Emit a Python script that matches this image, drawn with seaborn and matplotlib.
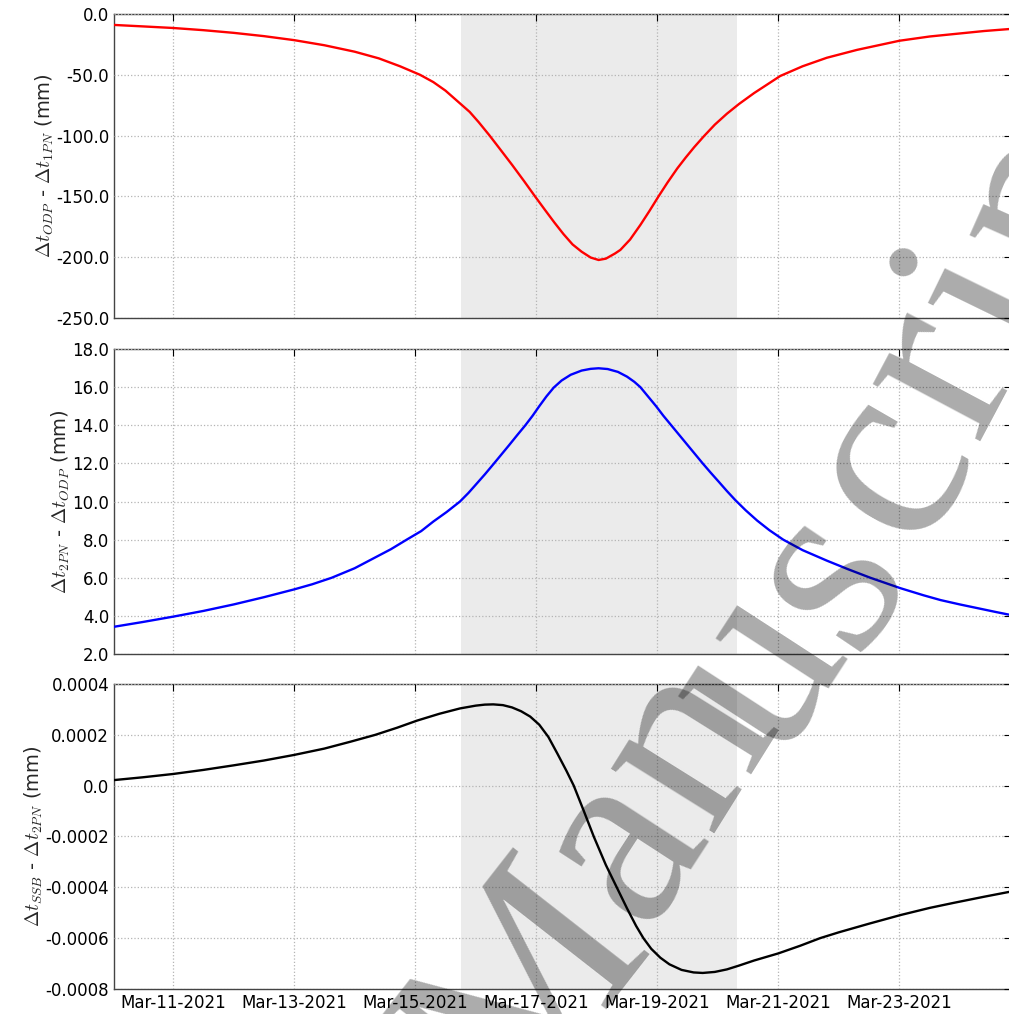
import numpy as np
import pandas as pd
import matplotlib
matplotlib.use("Agg")
import matplotlib.pyplot as plt
import matplotlib.dates as mdates
from matplotlib.ticker import MultipleLocator, FuncFormatter
import seaborn as sns

# time axis: days after Mar-11-2021 00:00
BASE = pd.Timestamp("2021-03-11")

odp_days = [-0.975, -0.5, 0, 0.5, 1, 1.5, 2, 2.5, 3, 3.4, 3.75, 4.08, 4.3, 4.5,
            4.74, 4.9, 5.05, 5.23, 5.4, 5.6, 5.8, 5.98, 6.15, 6.3, 6.45, 6.6,
            6.75, 6.9, 7.03, 7.15, 7.3, 7.39, 7.55, 7.72, 7.87, 8.02, 8.17, 8.33,
            8.47, 8.61, 8.77, 8.95, 9.15, 9.35, 9.6, 9.8, 10.03, 10.4, 10.8, 11.3,
            12, 12.5, 13, 13.4, 13.835]
odp_minus_1pn = [-9.0, -10.2, -11.5, -13.3, -15.5, -18.2, -21.5, -25.7, -31.0,
                 -36.5, -43.0, -50.0, -56.0, -63.0, -73.5, -80.5, -89.0, -100.0,
                 -111.0, -124.0, -137.5, -150.0, -161.5, -171.5, -181.0, -189.5,
                 -195.5, -200.3, -202.3, -201.2, -197.0, -194.0, -185.5, -173.5,
                 -162.0, -150.0, -138.5, -127.0, -118.0, -109.5, -100.5, -91.0,
                 -82.0, -74.0, -65.0, -58.5, -51.0, -43.0, -36.0, -29.5, -22.0,
                 -18.5, -16.0, -14.0, -12.3]

pn2_days = [-0.975, -0.5, 0, 0.5, 1, 1.5, 2, 2.3, 2.62, 3.0, 3.3, 3.6, 3.86, 4.1,
            4.3, 4.52, 4.74, 4.88, 5.0, 5.15, 5.29, 5.42, 5.55, 5.69, 5.82, 5.94,
            6.05, 6.17, 6.29, 6.42, 6.57, 6.75, 6.9, 7.03, 7.18, 7.35, 7.5, 7.62,
            7.72, 7.85, 7.98, 8.1, 8.23, 8.36, 8.49, 8.62, 8.75, 8.88, 9.02, 9.15,
            9.29, 9.46, 9.65, 9.85, 10.08, 10.4, 10.8, 11.15, 11.52, 12.02, 12.4,
            12.68, 13.0, 13.3, 13.6, 13.835]
pn2_minus_odp = [3.43, 3.68, 3.96, 4.26, 4.6, 4.98, 5.39, 5.66, 6.0, 6.5, 7.0, 7.5,
                 8.0, 8.45, 8.95, 9.45, 10.0, 10.45, 10.88, 11.42, 11.95, 12.45,
                 12.95, 13.5, 14.0, 14.5, 15.0, 15.52, 15.98, 16.35, 16.65, 16.87,
                 16.96, 16.99, 16.95, 16.8, 16.55, 16.28, 16.0, 15.5, 15.0, 14.5,
                 14.0, 13.5, 13.0, 12.5, 12.0, 11.52, 11.02, 10.55, 10.07, 9.54, 9.0,
                 8.5, 8.0, 7.45, 6.9, 6.45, 6.0, 5.45, 5.08, 4.83, 4.6, 4.4, 4.2, 4.05]

ssb_days = [-0.975, -0.5, 0, 0.5, 1, 1.5, 2, 2.5, 2.93, 3.34, 3.7, 4.03, 4.4, 4.74,
            5.0, 5.15, 5.29, 5.45, 5.6, 5.75, 5.9, 6.05, 6.2, 6.35, 6.5, 6.62, 6.78,
            6.95, 7.15, 7.33, 7.5, 7.65, 7.77, 7.9, 8.05, 8.2, 8.4, 8.6, 8.75, 8.95,
            9.15, 9.35, 9.6, 10.0, 10.36, 10.69, 11.0, 11.5, 12.02, 12.5, 12.9,
            13.4, 13.835]
ssb_minus_2pn = [0.000022, 0.000033, 0.000046, 0.000062, 0.000080, 0.000099,
                 0.000121, 0.000146, 0.000173, 0.0002, 0.000228, 0.000256, 0.000283,
                 0.000304, 0.000315, 0.000319, 0.00032, 0.000317, 0.000308, 0.000293,
                 0.000272, 0.00024, 0.000192, 0.000126, 0.000058, 0.0, -0.000096,
                 -0.0002, -0.000312, -0.0004, -0.000483, -0.000552, -0.0006,
                 -0.000642, -0.000677, -0.000703, -0.000725, -0.000735, -0.000737,
                 -0.000733, -0.000723, -0.000708, -0.000688, -0.00066, -0.00063,
                 -0.0006, -0.000577, -0.000543, -0.000509, -0.000481, -0.000461,
                 -0.000437, -0.000417]

span_days = (4.76, 9.31)
xlim_days = (-0.975, 13.835)

panels = [
    (odp_days, odp_minus_1pn, "red", (-250, 0), 50,
     r"$\Delta t_{ODP}$ - $\Delta t_{1PN}$ (mm)"),
    (pn2_days, pn2_minus_odp, "blue", (2, 18), 2,
     r"$\Delta t_{2PN}$ - $\Delta t_{ODP}$ (mm)"),
    (ssb_days, ssb_minus_2pn, "black", (-0.0008, 0.0004), 0.0002,
     r"$\Delta t_{SSB}$ - $\Delta t_{2PN}$ (mm)"),
]

sns.set_style("white")
plt.rcParams["font.family"] = ["DejaVu Sans"]
plt.rcParams["mathtext.fontset"] = "cm"


def to_time(days):
    return BASE + pd.to_timedelta(np.asarray(days, dtype=float), unit="D")


def str_fmt(v, pos):
    return str(round(v, 6) + 0.0)


fig = plt.figure(figsize=(10.09, 10.14), dpi=100)
boxes = [(0.6864, 0.9862), (0.3550, 0.6558), (0.0247, 0.3254)]
axes = []
for (b, t) in boxes:
    axes.append(fig.add_axes([0.113, b, 1.0015 - 0.113, t - b]))

for ax, (days, vals, col, ylim, step, label) in zip(axes, panels):
    df = pd.DataFrame({"time": to_time(days), "value": vals})
    ax.axvspan(to_time([span_days[0]])[0], to_time([span_days[1]])[0],
               color="#ebebeb", lw=0, zorder=0)
    sns.lineplot(data=df, x="time", y="value", color=col, lw=1.7, ax=ax, zorder=3)
    ax.set_xlim(to_time([xlim_days[0]])[0], to_time([xlim_days[1]])[0])
    ax.set_ylim(*ylim)
    ax.yaxis.set_major_locator(MultipleLocator(step))
    ax.yaxis.set_major_formatter(FuncFormatter(str_fmt))
    ax.xaxis.set_major_locator(mdates.DayLocator(bymonthday=[11, 13, 15, 17, 19, 21, 23, 25]))
    ax.xaxis.set_major_formatter(mdates.DateFormatter("%b-%d-%Y"))
    ax.grid(True, color="#b4b4b4", ls=":", lw=0.9, zorder=1)
    ax.set_axisbelow(False)
    ax.tick_params(direction="in", length=5, width=0.8, top=True, right=True,
                   labelsize=12, colors="black")
    for s in ax.spines.values():
        s.set_color("#444444")
        s.set_linewidth(1.0)
    ax.set_xlabel("")
    ax.set_ylabel(label, fontsize=14, labelpad=0)

for ax in axes[:2]:
    ax.tick_params(labelbottom=False)

# "Accepted Manuscript" watermark, letters laid along a gentle arc
wm_letters = ["M", "a", "n", "u", "s", "c", "r", "i", "p"]
wm_x = [530, 622, 690, 760, 829, 890, 940, 990, 1045]
wm_y = [995, 845, 743, 672, 576, 465, 372, 298, 200]
wm_rot = [52, 57, 58, 57, 56, 60, 62, 64, 66]
for ch, px, py, r in zip(wm_letters, wm_x, wm_y, wm_rot):
    fig.text(px / 1009, 1 - py / 1014, ch, family="Liberation Serif", fontsize=190,
             color="black", alpha=0.33, rotation=r, rotation_mode="anchor",
             ha="center", va="center", zorder=10)

fig.savefig("out.png", dpi=100)
